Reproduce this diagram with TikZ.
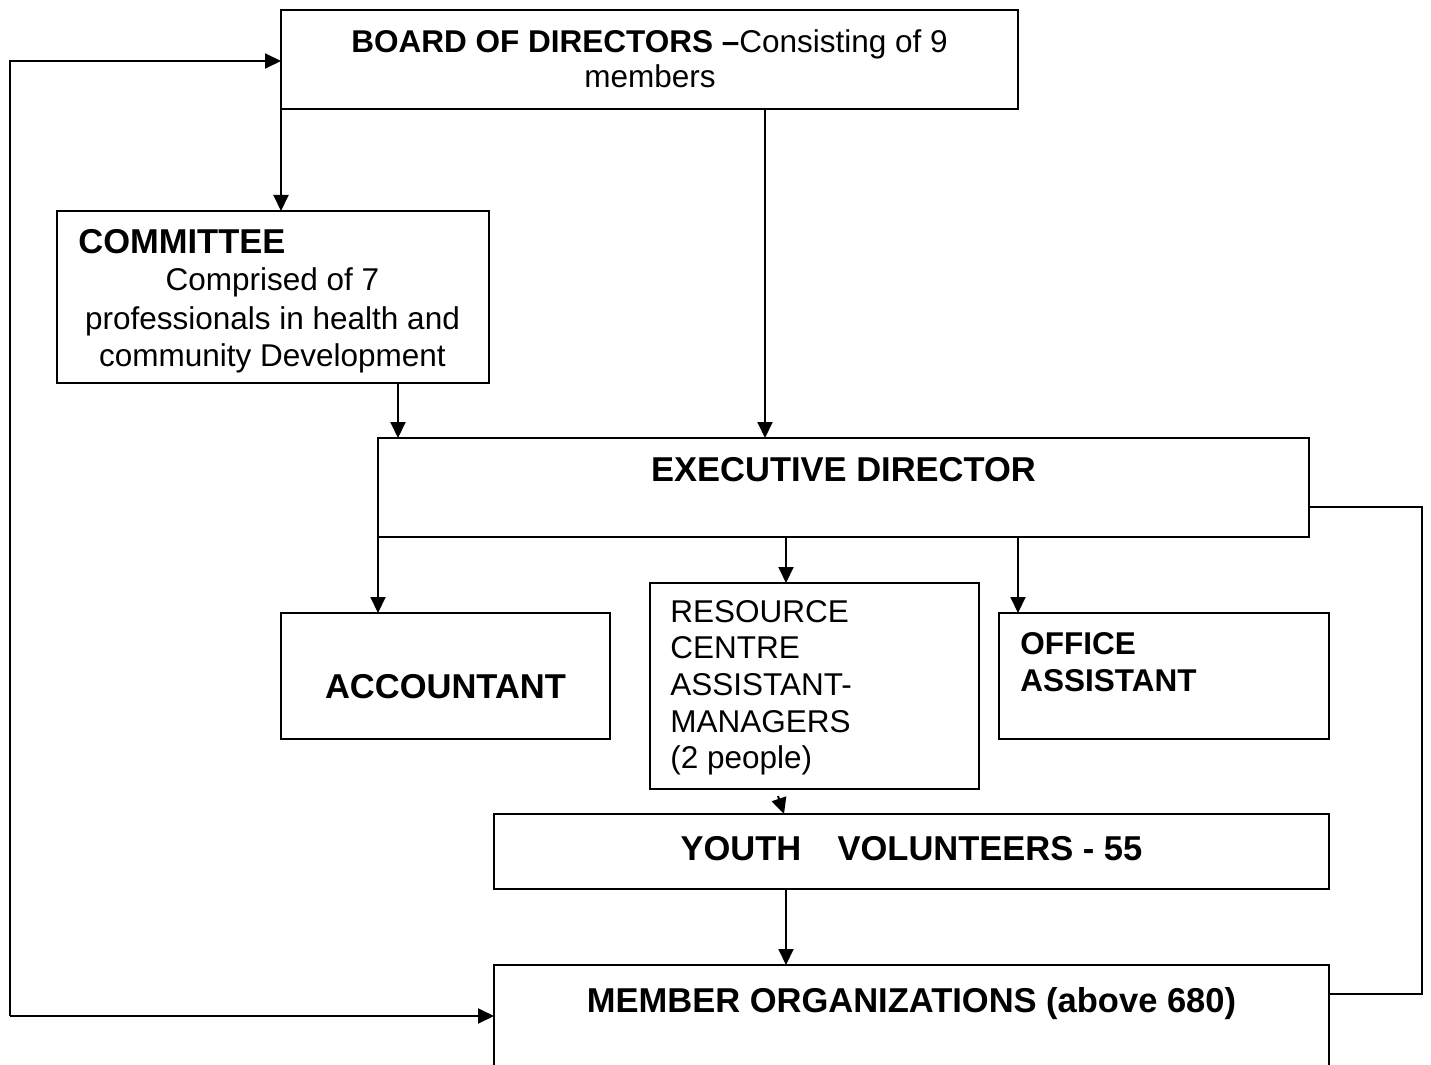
\documentclass[tikz,border=0pt]{standalone}
\usepackage{fontspec}
\setmainfont{Liberation Sans}
\usetikzlibrary{arrows.meta}
\begin{document}
\begin{tikzpicture}[x=0.5pt,y=-0.5pt,
  box/.style={draw, line width=1pt, rectangle, inner sep=0pt, outer sep=0pt, anchor=north west},
  arr/.style={line width=1pt, -{Triangle[length=8pt,width=7.5pt]}},
  ln/.style={line width=1pt},
  reg/.style={inner sep=0pt, font=\fontsize{15.75}{18.5}\selectfont},
  big/.style={inner sep=0pt, font=\fontsize{17.25}{18.5}\selectfont\bfseries},
  mid/.style={inner sep=0pt, font=\fontsize{15.75}{18.5}\selectfont\bfseries}]
\path[use as bounding box] (0,0) rectangle (1431,1065);
\clip (0,0) rectangle (1431,1065);
% boxes
\node[box, minimum width=368.5pt, minimum height=49.5pt] (board) at (281,10) {};
\node[box, minimum width=216pt, minimum height=86pt] (comm) at (57,211) {};
\node[box, minimum width=465.5pt, minimum height=49.5pt] (exec) at (378,438) {};
\node[box, minimum width=164.5pt, minimum height=63pt] (acc) at (281,613) {};
\node[box, minimum width=164.5pt, minimum height=103pt] (res) at (650,583) {};
\node[box, minimum width=165pt, minimum height=63pt] (off) at (999,613) {};
\node[box, minimum width=417.5pt, minimum height=37.5pt] (youth) at (494,814) {};
\node[box, minimum width=417.5pt, minimum height=80pt] (mem) at (494,965) {};
% texts
\node[reg, anchor=base] (t1) at (649.5,53) {\textbf{BOARD OF DIRECTORS –}Consisting of 9};
\node[reg, anchor=base] (t2) at (650,88) {members};
\node[big, anchor=base west] (t3) at (78,254) {COMMITTEE};
\node[reg, anchor=base] (t4) at (272.5,291) {Comprised of 7};
\node[reg, anchor=base] (t5) at (272.5,329) {professionals in health and};
\node[reg, anchor=base] (t6) at (272.5,366) {community Development};
\node[big, anchor=base] (t7) at (843.5,481) {EXECUTIVE DIRECTOR};
\node[big, anchor=base] (t8) at (445.5,698) {ACCOUNTANT};
\node[reg, anchor=base west] (r1) at (670,622) {RESOURCE};
\node[reg, anchor=base west] (r2) at (670,658) {CENTRE};
\node[reg, anchor=base west] (r3) at (670,695) {ASSISTANT-};
\node[reg, anchor=base west] (r4) at (670,732) {MANAGERS};
\node[reg, anchor=base west] (r5) at (670,768) {(2 people)};
\node[mid, anchor=base west] (o1) at (1020,654) {OFFICE};
\node[mid, anchor=base west] (o2) at (1020,691) {ASSISTANT};
\node[big, anchor=base] (t9) at (911.5,860) {YOUTH\hspace{1.05em}VOLUNTEERS - 55};
\node[big, anchor=base] (t10) at (911.5,1012) {MEMBER ORGANIZATIONS (above 680)};
% connectors
\coordinate (lt) at (10,61);
\coordinate (lb) at (10,1016);
\draw[arr] (lb) -- (lt) -- (lt -| board.west);
\draw[arr] (lb) -- (lb -| mem.west);
\draw[arr] (board.south -| 281,0) -- (comm.north -| 281,0);
\draw[arr] (board.south -| 765,0) -- (exec.north -| 765,0);
\draw[arr] (comm.south -| 398,0) -- (exec.north -| 398,0);
\draw[arr] (exec.south -| 378,0) -- (acc.north -| 378,0);
\draw[arr] (exec.south -| 786,0) -- (res.north -| 786,0);
\draw[arr] (exec.south -| 1018,0) -- (off.north -| 1018,0);
\coordinate (rs) at (778,796);
\draw[arr] (rs) -- (youth.north -| 784,0);
\draw[arr] (youth.south -| 786,0) -- (mem.north -| 786,0);
\coordinate (er) at (1422,507);
\coordinate (mr) at (1422,994);
\draw[ln] (exec.east |- er) -- (er) -- (mr) -- (mr -| mem.east);
\end{tikzpicture}
\end{document}
